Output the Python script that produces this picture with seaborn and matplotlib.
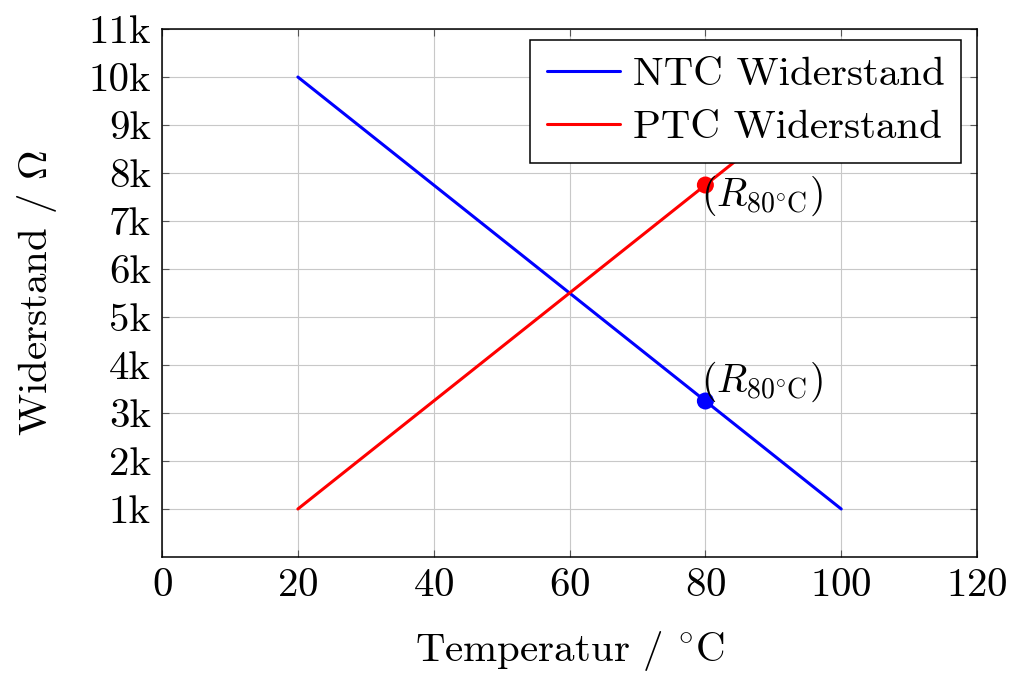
import matplotlib
matplotlib.use("Agg")
import matplotlib.pyplot as plt
import seaborn as sns
import pandas as pd
from matplotlib.ticker import FixedLocator, FixedFormatter

# Data
temperature = [20, 100]
ntc_values = [10000, 1000]
ptc_values = [1000, 10000]
series_names = ["NTC Widerstand", "PTC Widerstand"]
series_colors = ["#0000ff", "#ff0000"]
marker_temp = [80, 80]
marker_values = [3250, 7750]
x_ticks = [0, 20, 40, 60, 80, 100, 120]
y_ticks = [1000, 2000, 3000, 4000, 5000, 6000, 7000, 8000, 9000, 10000, 11000]
y_tick_labels = ["1k", "2k", "3k", "4k", "5k", "6k", "7k", "8k", "9k", "10k", "11k"]

sns.set_theme(style="white")
plt.rcParams["font.family"] = ["cmr10"]
plt.rcParams["mathtext.fontset"] = "cm"
plt.rcParams["axes.formatter.use_mathtext"] = True
plt.rcParams["axes.unicode_minus"] = False
for k in ["text.color", "axes.labelcolor", "xtick.labelcolor", "ytick.labelcolor"]:
    plt.rcParams[k] = "black"

df = pd.DataFrame({
    "T": temperature * 2,
    "R": ntc_values + ptc_values,
    "Serie": [series_names[0]] * 2 + [series_names[1]] * 2,
})
pts = pd.DataFrame({"T": marker_temp, "R": marker_values, "Serie": series_names})

fig = plt.figure(figsize=(10.36, 6.83), dpi=100)
ax = fig.add_axes([0.1564, 0.1845, 0.7867, 0.7730])

palette = dict(zip(series_names, series_colors))
sns.lineplot(data=df, x="T", y="R", hue="Serie", palette=palette, linewidth=2.2, ax=ax, zorder=3)
sns.scatterplot(data=pts, x="T", y="R", hue="Serie", palette=palette, s=150, edgecolor="none",
                ax=ax, legend=False, zorder=4)

ax.set_xlim(0, 120)
ax.set_ylim(0, 11000)
ax.xaxis.set_major_locator(FixedLocator(x_ticks))
ax.yaxis.set_major_locator(FixedLocator(y_ticks))
ax.yaxis.set_major_formatter(FixedFormatter(y_tick_labels))
ax.grid(True, color="#c8c8c8", linewidth=0.8, zorder=0)
ax.set_axisbelow(True)
for s in ax.spines.values():
    s.set_color("black")
    s.set_linewidth(1.1)
ax.tick_params(direction="in", length=5, width=0.8, color="#555555", top=True, right=True,
               labelsize=29.5, pad=8, left=True, bottom=True, labelcolor="black")

ax.set_xlabel(r"Temperatur / $^{\circ}$C", fontsize=29.5, labelpad=18, color="black")
ax.set_ylabel(r"Widerstand / $\Omega$", fontsize=29.5, labelpad=21, color="black")

lab = r"$(R_{80^{\circ}\mathrm{C}})$"
ax.annotate(lab, (marker_temp[0], marker_values[0]), xytext=(-3, -2), textcoords="offset points",
            ha="left", va="bottom", fontsize=28.5, zorder=5, color="black")
ax.annotate(lab, (marker_temp[1], marker_values[1]), xytext=(-3, 8), textcoords="offset points",
            ha="left", va="top", fontsize=28.5, zorder=5, color="black")

leg = ax.legend(loc="upper right", fontsize=29.5, frameon=True, fancybox=False, framealpha=1,
                edgecolor="black", handlelength=1.8, handletextpad=0.3, borderpad=0.4,
                labelspacing=0.4, bbox_to_anchor=(0.980, 0.979), borderaxespad=0)
leg.get_frame().set_linewidth(1.1)
leg.set_zorder(10)
for t in leg.get_texts():
    t.set_color("black")

fig.savefig("out.png", dpi=100)
